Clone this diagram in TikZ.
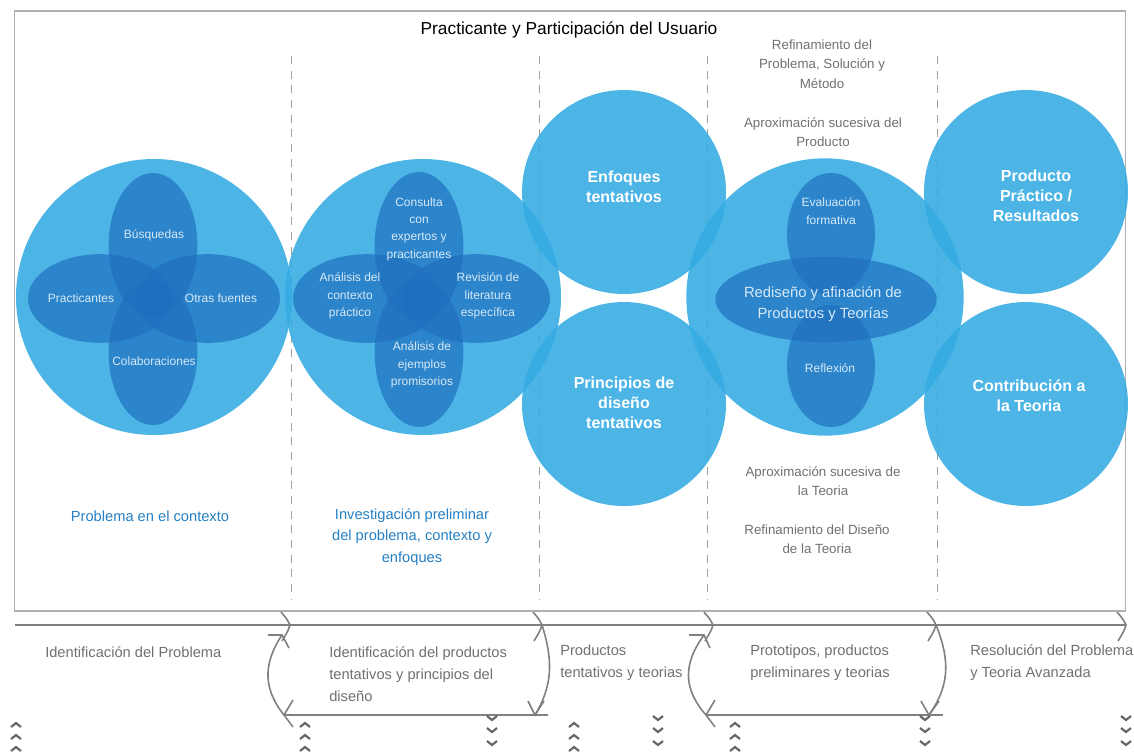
\documentclass[tikz,border=0pt]{standalone}
\usepackage{fontspec}
\setmainfont{Liberation Sans}
\newcommand{\fs}[2]{\fontsize{#1}{#2}\selectfont}
\tikzset{
 bigc/.style={circle,draw=none,fill=#1,fill opacity=.88,text opacity=1,minimum size=0pt,inner sep=0pt},
 ell/.style={ellipse,fill=ellblue,fill opacity=.7,inner sep=0pt},
 petalv/.style={ell,minimum width=66.5pt,minimum height=108pt},
 petalh/.style={ell,minimum width=108pt,minimum height=66.5pt},
 inlabel/.style={text=inwhite,align=center,inner sep=0pt,font=\fs{9}{13}},
 boldlabel/.style={text=white,align=center,inner sep=0pt,font=\bfseries\fs{12}{15}},
 graytxt/.style={text=txtgray,align=center,inner sep=0pt,font=\fs{10}{14.6}},
 bluetxt/.style={text=txtblue,align=center,inner sep=0pt,font=\fs{11}{16}},
 steptxt/.style={text=txtgray,align=left,inner sep=0pt,anchor=west,font=\fs{11}{16.5}},
 flow/.style={draw=flowgray,line width=1.2pt},
 guide/.style={draw=dashgray,line width=.7pt,dash pattern=on 6pt off 5pt},
 tiny chev/.style={draw=chevgray,line width=1.6pt,line join=miter}
}
\definecolor{ringblue}{HTML}{34ABE3}
\definecolor{ellblue}{HTML}{1F6FBF}
\definecolor{inwhite}{HTML}{D6EAF7}
\definecolor{txtgray}{HTML}{707070}
\definecolor{txtblue}{HTML}{2580C4}
\definecolor{flowgray}{HTML}{808080}
\definecolor{dashgray}{HTML}{A0A0A0}
\definecolor{chevgray}{HTML}{666666}
\definecolor{framegray}{HTML}{B0B0B0}
\usetikzlibrary{shapes.geometric}
\begin{document}
\begin{tikzpicture}[x=0.75pt,y=-0.75pt]
\useasboundingbox (0,0) rectangle (1134,751);
\node[draw=framegray,line width=1.1pt,minimum width=833pt,minimum height=450pt,inner sep=0pt] (frame) at (570,311) {};
\node[text=black,inner sep=0pt,font=\fs{13}{15}] (title) at (569,30) {Practicante y Participación del Usuario};

\foreach \n/\x in {g1/291,g2/539,g3/707,g4/937}{
 \coordinate (\n a) at (\x,56);
 \coordinate (\n b) at (\x,600);
 \draw[guide] (\n a) -- (\n b);
}

% big circles
\node[bigc=ringblue,minimum size=207pt] (c1) at (154,297) {};
\node[bigc=ringblue,minimum size=207pt] (c2) at (423,297) {};
\node[bigc=ringblue,minimum size=153pt] (c3) at (624,192) {};
\node[bigc=ringblue,minimum size=153pt] (c4) at (624,404) {};
\node[bigc=ringblue,minimum size=208pt] (c5) at (825,297) {};
\node[bigc=ringblue,minimum size=153pt] (c6) at (1026,192) {};
\node[bigc=ringblue,minimum size=153pt] (c7) at (1026,404) {};

% petals
\node[petalv] (e1t) at (153,245) {};
\node[petalv] (e1b) at (153,353) {};
\node[petalh] (e1l) at (100,298.5) {};
\node[petalh] (e1r) at (208,298.5) {};
\node[petalv,minimum height=111pt] (e2t) at (419,246) {};
\node[petalv,minimum height=111pt] (e2b) at (419,353) {};
\node[petalh,minimum width=111pt] (e2l) at (367,298.5) {};
\node[petalh,minimum width=111pt] (e2r) at (476,298.5) {};
\node[ell,minimum width=66pt,minimum height=91.5pt] (e5t) at (831,234) {};
\node[ell,minimum width=66pt,minimum height=91.5pt] (e5b) at (831,366) {};
\node[ell,minimum width=166pt,minimum height=64pt] (e5h) at (826,299.5) {};

% inner labels
\node[inlabel] (l1) at (154,235) {Búsquedas};
\node[inlabel] (l2) at (81,298) {Practicantes};
\node[inlabel] (l3) at (221,298) {Otras fuentes};
\node[inlabel] (l4) at (154,361) {Colaboraciones};
\node[inlabel] (l5) at (419,229) {Consulta\\con\\expertos y\\practicantes};
\node[inlabel] (l6) at (350,296) {Análisis del\\contexto\\práctico};
\node[inlabel] (l7) at (488,296) {Revisión de\\literatura\\específica};
\node[inlabel] (l8) at (422,365) {Análisis de\\ejemplos\\promisorios};
\node[inlabel] (l9) at (831,211) {Evaluación\\formativa};
\node[inlabel] (l10) at (830,368) {Reflexión};
\node[text=inwhite,align=center,inner sep=0pt,font=\fs{11.1}{16}] (l11) at (823,304) {Rediseño y afinación de\\Productos y Teorías};

\node[boldlabel] (b1) at (624,187) {Enfoques\\tentativos};
\node[boldlabel] (b2) at (624,403) {Principios de\\diseño\\tentativos};
\node[boldlabel] (b3) at (1036,196) {Producto\\Práctico /\\Resultados};
\node[boldlabel] (b4) at (1029,396) {Contribución a\\la Teoria};

% upper and lower gray notes
\node[graytxt] (n1) at (822,64) {Refinamiento del\\Problema, Solución y\\Método};
\node[graytxt] (n2) at (823,132) {Aproximación sucesiva del\\Producto};
\node[graytxt] (n3) at (823,481) {Aproximación sucesiva de\\la Teoria};
\node[graytxt] (n4) at (817,539) {Refinamiento del Diseño\\de la Teoria};

\node[bluetxt] (p1) at (150,516) {Problema en el contexto};
\node[bluetxt] (p2) at (412,537) {Investigación preliminar\\del problema, contexto y\\enfoques};

% phase labels
\node[steptxt] (s1) at (45,652) {Identificación del Problema};
\node[steptxt] (s2) at (329,674) {Identificación del productos\\tentativos y principios del\\diseño};
\node[steptxt] (s3) at (560,663) {Productos\\tentativos y teorias};
\node[steptxt] (s4) at (750,663) {Prototipos, productos\\preliminares y teorias};
\node[steptxt] (s5) at (970,663) {Resolución del Problema\\y Teoria Avanzada};

% timeline
\coordinate (t0) at (15,625);
\coordinate (t1) at (290,625);
\coordinate (t2) at (542,625);
\coordinate (t3) at (713,625);
\coordinate (t4) at (936,625);
\coordinate (t5) at (1126,625);
\draw[flow] (t0) -- (t5);
\foreach \t in {t1,t2,t3,t4,t5}{
 \draw[flow] ([shift={(-9,-13)}]\t) .. controls ([shift={(-3,-6)}]\t) .. (\t) .. controls ([shift={(-2,6)}]\t) .. ([shift={(-8,16)}]\t);
}
% left loop
\coordinate (a1) at (282,635);
\coordinate (a2) at (284,715);
\coordinate (a3) at (548,715);
\coordinate (a4) at (535,715);
\draw[flow] (a1) .. controls (262,665) and (264,690) .. (a2);
\draw[flow] ([shift={(-14,0)}]a1) -- (a1) -- ([shift={(7,13)}]a1);
\draw[flow] (a3) -- (a2);
\draw[flow] ([shift={(9,-15)}]a2) -- (a2) -- ([shift={(9,12)}]a2);
\draw[flow] (t2) .. controls (553,660) and (553,685) .. (a4);
\draw[flow] ([shift={(-7,-14)}]a4) -- (a4) -- ([shift={(9,-14)}]a4);
% right loop
\coordinate (b1a) at (704,635);
\coordinate (b2a) at (706,715);
\coordinate (b3a) at (943,715);
\coordinate (b4a) at (929,715);
\draw[flow] (b1a) .. controls (682,665) and (684,690) .. (b2a);
\draw[flow] ([shift={(-15,0)}]b1a) -- (b1a) -- ([shift={(6,13)}]b1a);
\draw[flow] (b3a) -- (b2a);
\draw[flow] ([shift={(9,-15)}]b2a) -- (b2a) -- ([shift={(9,12)}]b2a);
\draw[flow] (t4) .. controls (950,660) and (950,685) .. (b4a);
\draw[flow] ([shift={(-8,-14)}]b4a) -- (b4a) -- ([shift={(10,-14)}]b4a);

% small chevrons
\foreach \x in {16,305,574,735}{
 \foreach \y in {725,737,749}{
  \draw[tiny chev] (\x-5,\y+2) -- (\x,\y-2) -- (\x+5,\y+2);
 }
}
\foreach \x in {492,658,925,1126}{
 \foreach \y in {718,730,743}{
  \draw[tiny chev] (\x-5,\y-2) -- (\x,\y+2) -- (\x+5,\y-2);
 }
}
\end{tikzpicture}
\end{document}
